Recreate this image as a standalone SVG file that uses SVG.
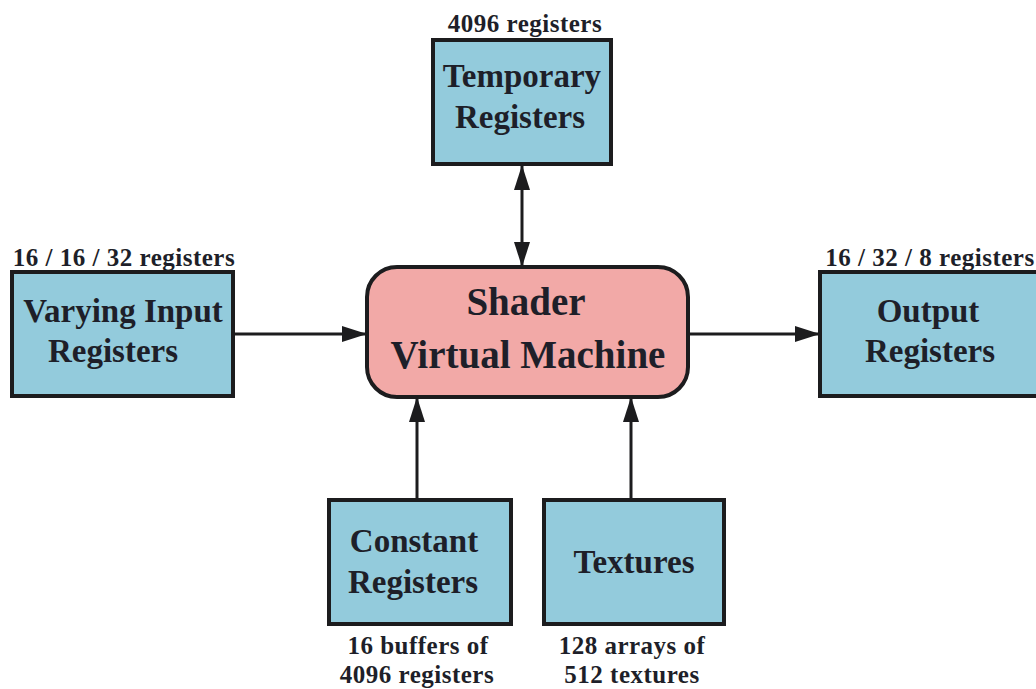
<svg xmlns="http://www.w3.org/2000/svg" width="1036" height="689" viewBox="0 0 1036 689">
  <style>
    .reg { fill: #93cbdc; stroke: #1c1c1e; stroke-width: 4; }
    .vm { fill: #f2a9a7; stroke: #1c1c1e; stroke-width: 4; }
    .lbl { font-family: "Liberation Serif", "Times New Roman", serif; font-weight: bold; font-size: 33px; fill: #1e1f29; text-anchor: middle; }
    .big { font-size: 39px; }
    .note { font-family: "Liberation Serif", "Times New Roman", serif; font-weight: bold; font-size: 25px; letter-spacing: 0.5px; fill: #1e1f29; text-anchor: middle; }
    .wire { fill: none; stroke: #1c1c1e; stroke-width: 3; }
  </style>
  <defs>
    <marker id="head" markerUnits="userSpaceOnUse" markerWidth="26" markerHeight="18" viewBox="0 0 26 18" refX="25" refY="9" orient="auto-start-reverse">
      <path d="M0,1 L25,9 L0,17 z" fill="#1c1c1e"/>
    </marker>
  </defs>

  <rect width="1036" height="689" fill="#ffffff"/>

  <g id="connectors">
    <path class="wire" d="M233,334 L367,334" marker-end="url(#head)"/>
    <path class="wire" d="M688,334 L820,334" marker-end="url(#head)"/>
    <path class="wire" d="M522,165 L522,267" marker-start="url(#head)" marker-end="url(#head)"/>
    <path class="wire" d="M417,500 L417,397" marker-end="url(#head)"/>
    <path class="wire" d="M631,500 L631,397" marker-end="url(#head)"/>
  </g>

  <g id="shader-vm">
    <rect class="vm" x="367" y="267" width="321" height="130" rx="30" ry="30"/>
    <text class="lbl big" x="526" y="315">Shader</text>
    <text class="lbl big" x="528" y="368">Virtual Machine</text>
  </g>

  <g id="temporary-registers">
    <text class="note" x="525" y="32">4096 registers</text>
    <rect class="reg" x="433" y="40" width="178" height="124"/>
    <text class="lbl" x="522" y="87">Temporary</text>
    <text class="lbl" x="520" y="128">Registers</text>
  </g>

  <g id="varying-input-registers">
    <text class="note" x="124" y="266">16 / 16 / 32 registers</text>
    <rect class="reg" x="12" y="272" width="221" height="124"/>
    <text class="lbl" x="123" y="322">Varying Input</text>
    <text class="lbl" x="113" y="362">Registers</text>
  </g>

  <g id="output-registers">
    <text class="note" x="930" y="266">16 / 32 / 8 registers</text>
    <rect class="reg" x="820" y="272" width="226" height="124"/>
    <text class="lbl" x="928" y="322">Output</text>
    <text class="lbl" x="930" y="362">Registers</text>
  </g>

  <g id="constant-registers">
    <rect class="reg" x="329" y="500" width="182" height="124"/>
    <text class="lbl" x="414" y="552">Constant</text>
    <text class="lbl" x="413" y="593">Registers</text>
    <text class="note" x="418" y="654">16 buffers of</text>
    <text class="note" x="417" y="683">4096 registers</text>
  </g>

  <g id="textures">
    <rect class="reg" x="544" y="500" width="180" height="124"/>
    <text class="lbl" x="634" y="573">Textures</text>
    <text class="note" x="632" y="654">128 arrays of</text>
    <text class="note" x="632" y="683">512 textures</text>
  </g>
</svg>
